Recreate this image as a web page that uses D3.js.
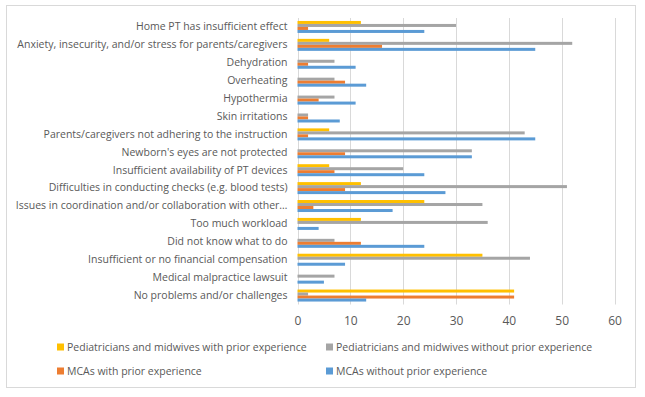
<!DOCTYPE html>
<html>
<head>
<meta charset="utf-8">
<script src="https://cdn.jsdelivr.net/npm/d3@7"></script>
<style>
    body { margin: 0; background: #fff; }
    text { font-family: "Open Sans", "Noto Sans", sans-serif; fill: #595959; }
</style>
</head>
<body>
<div id="chart"></div>
<script>
// Challenges chart - grouped horizontal bars

let categories = [
    "Home PT has insufficient effect",
    "Anxiety, insecurity, and/or stress for parents/caregivers",
    "Dehydration",
    "Overheating",
    "Hypothermia",
    "Skin irritations",
    "Parents/caregivers not adhering to the instruction",
    "Newborn's eyes are not protected",
    "Insufficient availability of PT devices",
    "Difficulties in conducting checks (e.g. blood tests)",
    "Issues in coordination and/or collaboration with other\u2026",
    "Too much workload",
    "Did not know what to do",
    "Insufficient or no financial compensation",
    "Medical malpractice lawsuit",
    "No problems and/or challenges"
];

let seriesNames = [
    "Pediatricians and midwives with prior experience",
    "Pediatricians and midwives without prior experience",
    "MCAs with prior experience",
    "MCAs without prior experience"
];

let pedWithPrior    = [12, 6, 0, 0, 0, 0, 6, 0, 6, 12, 24, 12, 0, 35, 0, 41];
let pedWithoutPrior = [30, 52, 7, 7, 7, 2, 43, 33, 20, 51, 35, 36, 7, 44, 7, 2];
let mcaWithPrior    = [2, 16, 2, 9, 4, 2, 2, 9, 7, 9, 3, 0, 12, 0, 0, 41];
let mcaWithoutPrior = [24, 45, 11, 13, 11, 8, 45, 33, 24, 28, 18, 4, 24, 9, 5, 13];

let xTicks = [0, 10, 20, 30, 40, 50, 60];

let colors = ['#FFC000', '#A5A5A5', '#ED7D31', '#5B9BD5'];

let seriesValues = [pedWithPrior, pedWithoutPrior, mcaWithPrior, mcaWithoutPrior];

let width = 645, height = 397;

let svg = d3.select("#chart").append("svg")
    .attr("width", width)
    .attr("height", height);

// outer chart border
svg.append("rect")
    .attr("x", 6.5).attr("y", 5.5)
    .attr("width", 629).attr("height", 382)
    .attr("fill", "none")
    .attr("stroke", "#D9D9D9");

// Scales
let x = d3.scaleLinear()
    .domain([0, 60])
    .range([297.5, 614.5]);

let y = d3.scaleBand()
    .domain(categories)
    .range([18, 304.5])
    .paddingInner(0.33)
    .paddingOuter(0.165);

let ySeries = d3.scaleBand()
    .domain(d3.range(seriesNames.length))
    .range([0, y.bandwidth()]);

// Gridlines
svg.append("g")
    .selectAll("line")
    .data(xTicks)
    .join("line")
    .attr("x1", d => Math.round(x(d)) + 0.5)
    .attr("x2", d => Math.round(x(d)) + 0.5)
    .attr("y1", 18)
    .attr("y2", 304.5)
    .attr("stroke", "#D9D9D9");

// Bars
let rows = [];
categories.forEach((c, i) => {
    seriesValues.forEach((vals, s) => {
        rows.push({cat: c, s: s, value: vals[i]});
    });
});

svg.append("g")
    .selectAll("rect")
    .data(rows.filter(d => d.value > 0))
    .join("rect")
    .attr("x", x(0))
    .attr("y", d => y(d.cat) + ySeries(d.s))
    .attr("width", d => x(d.value) - x(0))
    .attr("height", ySeries.bandwidth())
    .attr("fill", d => colors[d.s]);

// Axis
let xAxis = d3.axisBottom(x)
    .tickValues(xTicks)
    .tickSize(0)
    .tickPadding(10);

let xg = svg.append("g")
    .attr("transform", "translate(0,306)")
    .call(xAxis);
xg.select(".domain").remove();
xg.selectAll("text")
    .style("font-size", "12px")
    .attr("fill", "#595959");

// Category labels
let yAxis = d3.axisLeft(y)
    .tickSize(0)
    .tickPadding(10);

let yg = svg.append("g")
    .attr("transform", "translate(" + x(0) + ",0)")
    .call(yAxis);
yg.select(".domain").remove();
yg.selectAll("text")
    .style("font-size", "10.5px")
    .attr("fill", "#595959");

// Legend
let legendPos = [[57, 347], [326, 347], [57, 371], [326, 371]];

let legend = svg.append("g")
    .selectAll("g")
    .data(seriesNames)
    .join("g")
    .attr("transform", (d, i) => `translate(${legendPos[i][0]}, ${legendPos[i][1]})`);

legend.append("rect")
    .attr("x", 0).attr("y", -3.5)
    .attr("width", 7).attr("height", 7)
    .attr("fill", (d, i) => colors[i]);

legend.append("text")
    .attr("x", 10)
    .attr("dy", "0.35em")
    .style("font-size", "10.5px")
    .text(d => d);
</script>
</body>
</html>
